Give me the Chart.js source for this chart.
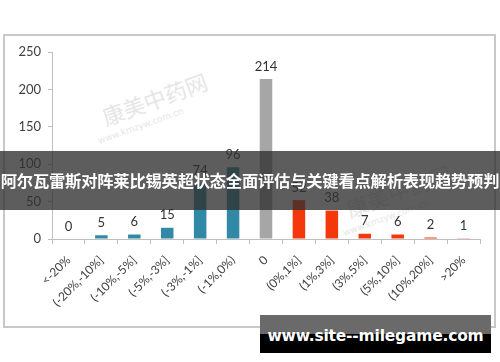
<!DOCTYPE html>
<html><head><meta charset="utf-8">
<script src="https://cdn.jsdelivr.net/npm/chart.js@4/dist/chart.umd.min.js"></script>
<style>
html,body{margin:0;padding:0;background:#fff;}
#root{position:relative;width:500px;height:362px;overflow:hidden;background:#fff;}
canvas{position:absolute;left:0;top:0;}
.wm{position:absolute;color:#e6e6e6;white-space:nowrap;transform-origin:left bottom;font-family:"Noto Sans CJK SC",sans-serif;}
.banner{position:absolute;left:0;top:151px;width:500px;height:59px;background:rgba(48,48,48,0.78);color:#fff;font:bold 16.3px "Noto Sans CJK SC",sans-serif;line-height:59px;text-align:center;white-space:nowrap;letter-spacing:-0.2px;}
.site{position:absolute;left:260px;top:315px;width:231px;height:38px;background:linear-gradient(#6a6a6a 0,#6a6a6a 50%,#000 50%,#000 100%);color:#fff;font:bold 15.5px "DejaVu Sans",sans-serif;line-height:42px;text-align:center;white-space:nowrap;letter-spacing:-0.2px;}
</style></head>
<body><div id="root">
<div class="wm" style="left:108px;top:100px;font-size:22px;transform:rotate(-20deg);">康美中药网</div>
<div class="wm" style="left:100px;top:136px;font-size:9px;font-family:'DejaVu Sans';transform:rotate(-20deg);">www.kmzyw.com.cn</div>
<div class="wm" style="left:352px;top:192px;font-size:22px;transform:rotate(-20deg);">康美中药网</div>
<div class="wm" style="left:345px;top:228px;font-size:9px;font-family:'DejaVu Sans';transform:rotate(-20deg);">www.kmzyw.com.cn</div>
<canvas id="c" width="500" height="362"></canvas>
<div class="banner">阿尔瓦雷斯对阵莱比锡英超状态全面评估与关键看点解析表现趋势预判</div>
<div class="site">www.site--milegame.com</div>
</div>
<script>
const categories = ["<-20%","(-20%,-10%]","(-10%,-5%]","(-5%,-3%]","(-3%,-1%]","(-1%,0%)","0","(0%,1%]","(1%,3%]","(3%,5%]","(5%,10%]","(10%,20%]",">20%"];
const counts = [0,5,6,15,74,96,214,52,38,7,6,2,1];
const yTicks = [0,50,100,150,200,250];

const TEAL = '#3189a6', GRAY = '#a6a6a6', RED = '#f5380c';
const barColors = categories.map((c,i)=> i<6 ? TEAL : (i===6 ? GRAY : RED));

const framePlugin = {
  id:'frame',
  beforeDraw(chart){
    const ctx = chart.ctx;
    ctx.save();
    ctx.strokeStyle = '#c8c8c8';
    ctx.lineWidth = 2;
    ctx.strokeRect(4,35,491,292);
    ctx.restore();
  }
};
const labelPlugin = {
  id:'vals',
  afterDatasetsDraw(chart){
    const ctx = chart.ctx;
    const meta = chart.getDatasetMeta(0);
    ctx.save();
    ctx.fillStyle = '#333';
    ctx.font = '13px Lato';
    ctx.textAlign = 'center';
    ctx.textBaseline = 'bottom';
    meta.data.forEach((bar,i)=>{
      ctx.fillText(String(counts[i]), bar.x, bar.y - 6);
    });
    ctx.restore();
  }
};

new Chart(document.getElementById('c'), {
  type:'bar',
  data:{ labels:categories, datasets:[{ data:counts, backgroundColor:barColors, barPercentage:0.38, categoryPercentage:1.0 }]},
  options:{
    responsive:false, animation:false,
    layout:{ padding:{ left:0, top:52, right:20, bottom:35 } },
    plugins:{ legend:{display:false}, tooltip:{enabled:false} },
    scales:{
      x:{
        offset:true,
        grid:{ display:true, drawOnChartArea:false, drawTicks:true, tickLength:5, color:'#bfbfbf', offset:true },
        border:{ color:'#bfbfbf' },
        ticks:{ minRotation:45, maxRotation:45, autoSkip:false, color:'#404040', font:{family:'Lato', size:12}, padding:9 },
        afterFit(s){ s.height = 88; }
      },
      y:{
        min:0, max:250,
        afterBuildTicks(s){ s.ticks = yTicks.map(v=>({value:v})); },
        grid:{ display:true, drawOnChartArea:false, drawTicks:true, tickLength:4, color:'#bfbfbf' },
        border:{ color:'#bfbfbf' },
        ticks:{ color:'#404040', font:{family:'Lato', size:13}, padding:7 },
        afterFit(s){ s.width = 52; }
      }
    }
  },
  plugins:[framePlugin, labelPlugin]
});
</script>
</body></html>
